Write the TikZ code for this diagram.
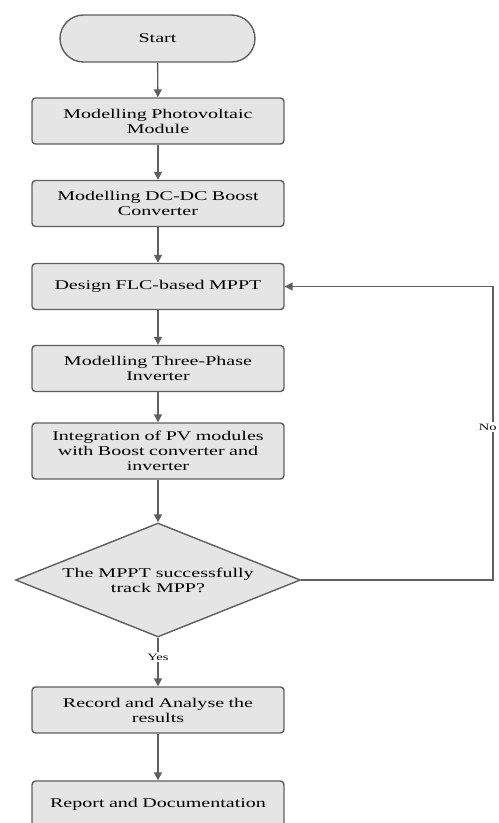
\documentclass[tikz,border=0pt]{standalone}
\usepackage{fontspec}
\setmainfont[FakeStretch=1.5]{Liberation Serif}
\definecolor{boxgray}{RGB}{229, 229, 229}
\definecolor{linegray}{RGB}{95, 95, 95}
\usepackage{tikz}
\usetikzlibrary{shapes, arrows.meta, positioning, calc}

\begin{document}
\begin{tikzpicture}[
  x=0.02cm, y=-0.02cm,
  stepbox/.style={draw=linegray, line width=0.8pt, fill=boxgray, rounded corners=2pt, minimum width=5.04cm, minimum height=0.92cm, align=center, text width=4.8cm, inner sep=2pt, font=\fontsize{7.6}{8.6}\selectfont},
  startbox/.style={draw=linegray, line width=0.8pt, fill=boxgray, rounded corners=0.47cm, minimum width=3.9cm, minimum height=0.94cm, font=\fontsize{7.6}{8.6}\selectfont},
  testbox/.style={draw=linegray, line width=0.8pt, fill=boxgray, diamond, aspect=2.5, minimum width=5.7cm, minimum height=2.28cm, inner sep=0pt, align=center, font=\fontsize{7.6}{8.6}\selectfont},
  flow/.style={draw=linegray, line width=0.8pt, -{Triangle[width=4.5pt, length=4.5pt]}},
  tag/.style={fill=white, inner sep=1pt, font=\fontsize{5.5}{6}\selectfont}
]
  \useasboundingbox (0,0) rectangle (498,823);

  \node[startbox] (start) at (157.5, 38.5) {Start};
  \node[stepbox] (pvmod) at (158, 121) {Modelling Photovoltaic\\Module};
  \node[stepbox] (boost) at (158, 203.5) {Modelling DC-DC Boost\\Converter};
  \node[stepbox] (flc) at (158, 286.5) {Design FLC-based MPPT};
  \node[stepbox] (inv) at (158, 368.5) {Modelling Three-Phase\\Inverter};
  \node[stepbox, minimum height=1.12cm] (integ) at (158, 451) {Integration of PV modules\\with Boost converter and\\inverter};
  \node[testbox] (check) at (158, 580) {The MPPT successfully\\track MPP?};
  \node[stepbox] (record) at (158, 710) {Record and Analyse the\\results};
  \node[stepbox] (report) at (158, 804) {Report and Documentation};

  \coordinate (rbot) at (493, 580);
  \coordinate (rtop) at (493, 286.5);

  \draw[flow] (start) -- (pvmod);
  \draw[flow] (pvmod) -- (boost);
  \draw[flow] (boost) -- (flc);
  \draw[flow] (flc) -- (inv);
  \draw[flow] (inv) -- (integ);
  \draw[flow] (integ) -- (check);
  \draw[flow] (check) -- node[tag, pos=0.4] {Yes} (record);
  \draw[flow] (record) -- (report);
  \draw[flow] (check.east) -- (rbot) -- node[tag, pos=0.52, xshift=-3pt] {No} (rtop) -- (flc.east);
\end{tikzpicture}
\end{document}
